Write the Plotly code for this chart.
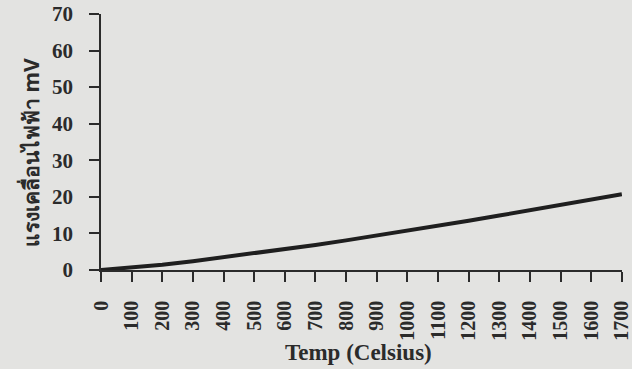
import plotly.graph_objects as go

temps = [0, 100, 200, 300, 400, 500, 600, 700, 800, 900, 1000,
         1100, 1200, 1300, 1400, 1500, 1600, 1700]
emf_mv = [0, 0.6, 1.45, 2.4, 3.45, 4.55, 5.7, 6.85, 8.1, 9.4, 10.7,
          12.05, 13.45, 14.9, 16.35, 17.8, 19.25, 20.7]
x_ticks = list(range(0, 1701, 100))
y_ticks = list(range(0, 71, 10))

bg = "#e3e3e1"
ink = "#2b2b2b"
font_family = "Liberation Serif, Times New Roman, serif"

W, H = 632, 369
L, R, T, B = 101, 10, 14, 99
pw, ph = W - L - R, H - T - B

fig = go.Figure()
fig.add_trace(go.Scatter(x=temps, y=emf_mv, mode="lines",
                         line=dict(color="#1f1f1f", width=4),
                         showlegend=False, hoverinfo="skip"))

fig.update_layout(
    width=W, height=H,
    margin=dict(l=L, r=R, t=T, b=B),
    paper_bgcolor=bg, plot_bgcolor=bg,
    font=dict(family=font_family, color=ink),
    xaxis=dict(range=[0, 1700.5], tickvals=x_ticks,
               ticktext=[str(v) for v in x_ticks],
               tickangle=-90, ticks="outside", ticklen=10, tickwidth=1.5,
               tickcolor=ink, showline=True, linecolor=ink, linewidth=1.5,
               showgrid=False, zeroline=False, automargin=False,
               ticklabelstandoff=11, ticklabeloverflow="allow",
               tickfont=dict(family=font_family, size=20, color=ink, weight="bold")),
    yaxis=dict(range=[0, 70], tickvals=y_ticks,
               ticks="outside", ticklen=10, tickwidth=1.5, tickcolor=ink,
               showline=True, linecolor=ink, linewidth=1.5,
               showgrid=False, zeroline=False, automargin=False,
               ticklabelstandoff=12,
               tickfont=dict(family=font_family, size=21, color=ink, weight="bold")),
    annotations=[
        dict(text="<b>Temp (Celsius)</b>", xref="paper", yref="paper",
             x=(358 - L) / pw, y=-(352 - (T + ph)) / ph,
             xanchor="center", yanchor="middle", showarrow=False,
             font=dict(family=font_family, size=23, color=ink)),
        dict(text="<b>แรงเคลื่อนไฟฟ้า mV</b>", xref="paper", yref="paper",
             x=(30 - L) / pw, y=((T + ph) - 153) / ph, textangle=-90,
             xanchor="center", yanchor="middle", showarrow=False,
             font=dict(family="Noto Sans, DejaVu Sans, sans-serif", size=21, color=ink)),
    ],
)

fig.write_html("out.html", config={"displayModeBar": False},
               post_script="document.body.style.margin='0';document.body.style.background='%s';" % bg)
